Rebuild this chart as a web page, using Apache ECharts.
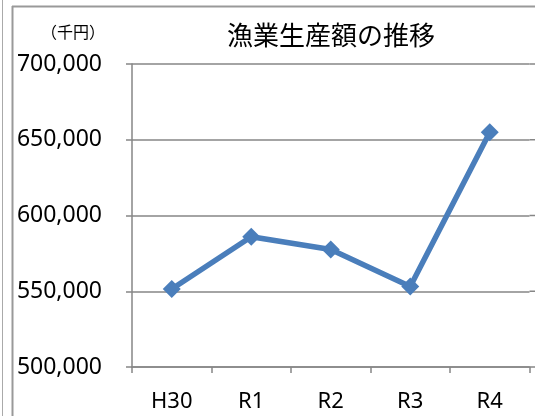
<!DOCTYPE html>
<html><head><meta charset="utf-8">
<script src="https://cdn.jsdelivr.net/npm/echarts@6/dist/echarts.min.js"></script>
<style>html,body{margin:0;padding:0;background:#fff}#c{width:535px;height:416px}</style>
</head><body><div id="c"></div>
<script>
const categories = ['H30', 'R1', 'R2', 'R3', 'R4'];
const values = [551500, 586000, 577500, 553200, 655000];
const title = '漁業生産額の推移';
const unitLabel = '（千円）';
const yTicks = [500000, 550000, 600000, 650000, 700000];

const chart = echarts.init(document.getElementById('c'));
const frame = [
  { type: 'line', shape: { x1: 12.5, y1: 6, x2: 12.5, y2: 416 }, style: { stroke: '#999', lineWidth: 2 } },
  { type: 'line', shape: { x1: 12, y1: 6.5, x2: 535, y2: 6.5 }, style: { stroke: '#999', lineWidth: 2 } },
  { type: 'line', shape: { x1: 2.5, y1: 0, x2: 2.5, y2: 416 }, style: { stroke: '#aaa', lineWidth: 1 } },
  { type: 'text', left: 41, top: 24, style: { text: unitLabel, font: '16px "Noto Sans CJK JP"', fill: '#000' } }
];
chart.setOption({
  animation: false,
  backgroundColor: '#fff',
  title: {
    text: title, left: 326, top: 17, textAlign: 'center',
    textStyle: { fontFamily: 'Noto Sans CJK JP', fontSize: 26, fontWeight: 'normal', color: '#000' }
  },
  graphic: frame,
  grid: { left: 132, right: 5.5, top: 64, bottom: 49 },
  xAxis: {
    type: 'category', data: categories, boundaryGap: true,
    axisLine: { lineStyle: { color: '#868686', width: 1.5 } },
    axisTick: { show: true, length: 6, lineStyle: { color: '#868686', width: 1.5 } },
    axisLabel: { fontFamily: 'Noto Sans', fontSize: 22, color: '#000', margin: 24 }
  },
  yAxis: {
    type: 'value', min: 500000, max: 700000, interval: 50000,
    axisLine: { show: true, lineStyle: { color: '#868686', width: 1.5 } },
    axisTick: { show: true, length: 6, lineStyle: { color: '#868686', width: 1.5 } },
    splitLine: { lineStyle: { color: '#868686', width: 1.5 } },
    axisLabel: {
      fontFamily: 'Noto Sans', fontSize: 23, color: '#000', margin: 30,
      formatter: v => yTicks.includes(v) ? v.toLocaleString('en-US') : ''
    }
  },
  series: [{
    type: 'line', data: values,
    lineStyle: { color: '#4A7EBB', width: 5.5 },
    itemStyle: { color: '#4A7EBB' },
    symbol: 'diamond', symbolSize: 18
  }]
});
// extend gridlines to the right edge (plot area continues beyond the crop)
const ext = yTicks.map(v => {
  const y = chart.convertToPixel({ yAxisIndex: 0 }, v);
  const x0 = chart.convertToPixel({ xAxisIndex: 0 }, categories.length - 1) + 39.75;
  return { type: 'line', shape: { x1: x0, y1: y, x2: 535, y2: y }, style: { stroke: '#868686', lineWidth: 1.5 }, z: -1 };
});
chart.setOption({ graphic: frame.concat(ext) });
</script></body></html>
